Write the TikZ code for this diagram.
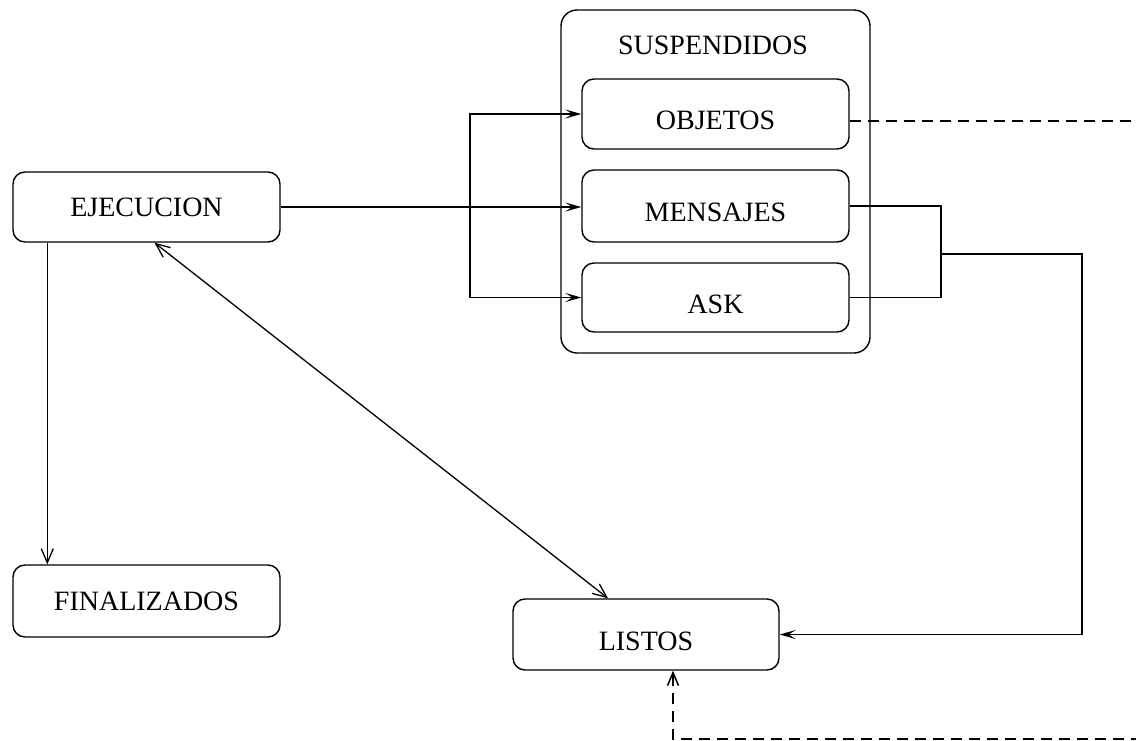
\documentclass[tikz,border=0pt]{standalone}
\usepackage{fontspec}
\setmainfont{Liberation Serif}
\usetikzlibrary{arrows.meta,calc}
\tikzset{
  state/.style={draw, line width=1.4pt, rounded corners=12pt, inner sep=0pt,
    minimum width=267pt, font=\fontsize{28}{30}\selectfont},
  low/.style={text height=31pt, text depth=0pt},
  group/.style={draw, line width=1.4pt, rounded corners=16pt, inner sep=0pt},
  flow/.style={line width=1.4pt, -{Stealth[length=16pt,width=9pt,inset=7pt]}},
  barb/.style={line width=1.3pt, -{Straight Barb[length=14pt,width=12pt]}},
  wire/.style={line width=1.4pt},
  weak/.style={line width=1.5pt, dash pattern=on 11pt off 7pt},
}
\begin{document}
\begin{tikzpicture}[x=1pt,y=-1pt]
\useasboundingbox (0,0) rectangle (1136,740);
\clip (0,0) rectangle (1136,740);

% process states
\node[state, minimum height=70pt] (ejec) at (146.5,207) {EJECUCION};
\node[state, minimum height=72pt] (fin) at (146.5,601) {FINALIZADOS};
\node[state, low, minimum height=71pt, minimum width=266pt] (listos) at (646,634.5) {LISTOS};

% suspended group
\node[group, minimum width=309pt, minimum height=343pt] (susp) at (715.5,181.5) {};
\node[font=\fontsize{28}{30}\selectfont] (susptitle) at (713,45) {SUSPENDIDOS};
\node[state, low, minimum height=70pt] (obj) at (715.5,114) {OBJETOS};
\node[state, low, minimum height=72pt] (men) at (715.5,206) {MENSAJES};
\node[state, low, minimum height=69pt] (ask) at (715.5,297.5) {ASK};

% execution to suspended states
\draw[flow] (ejec.east) -- (men.west |- ejec.east);
\coordinate (split) at (470,207);
\draw[flow] (split) |- (obj.west);
\draw[flow] (split) |- (ask.west);

% execution to finished
\draw[barb] ($(ejec.south west)+(35,0)$) -- ($(fin.north west)+(35,0)$);

% execution <-> ready
\draw[line width=1.3pt, {Straight Barb[length=14pt,width=12pt]}-{Straight Barb[length=14pt,width=12pt]}]
  ($(ejec.south)+(8,0)$) -- ($(listos.north)+(-38,0)$);

% messages / ask back to ready
\coordinate (merge) at (941,254);
\coordinate (turn) at (1082,254);
\draw[wire] (men.east) -- (941,206) -- (941,297.5) -- (ask.east);
\draw[flow] (merge) -- (turn) |- (listos.east);

% objects back to ready (dashed)
\coordinate (objout) at (1160,121);
\coordinate (back) at (1160,739);
\draw[weak] ($(obj.east)+(0,7)$) -- (objout);
\draw[weak, -{Straight Barb[length=13pt,width=11pt]}] (back) -| ($(listos.south)+(27,0)$);
\end{tikzpicture}
\end{document}
